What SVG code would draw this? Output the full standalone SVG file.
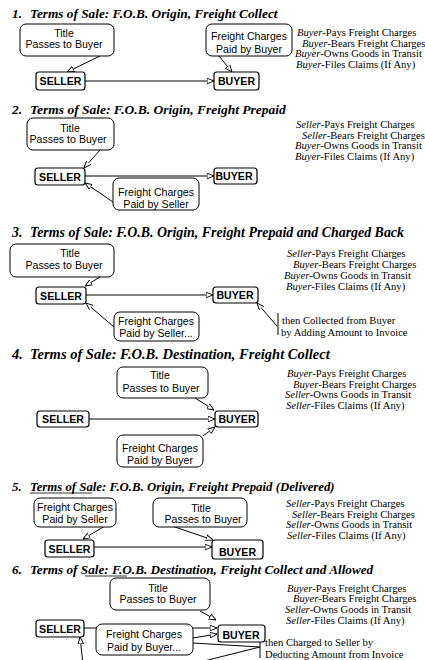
<svg xmlns="http://www.w3.org/2000/svg" width="425" height="660" viewBox="0 0 425 660">
<style>
.t{font-family:"Liberation Serif",serif;font-weight:bold;font-style:italic;font-size:13px;fill:#000}
.n{font-family:"Liberation Sans",Arial,sans-serif;font-size:10.6px;text-anchor:middle;fill:#000}
.b{font-family:"Liberation Sans",Arial,sans-serif;font-size:10.6px;font-weight:bold;text-anchor:middle;fill:#000}
.r{font-family:"Liberation Serif",serif;font-size:10.6px;fill:#000}
.i{font-style:italic}
.box{fill:#fff;stroke:#000;stroke-width:1}
.nb{fill:#fff;stroke:#000;stroke-width:1.2}
.c{fill:none;stroke:#000;stroke-width:1;marker-end:url(#ah)}
.p{fill:none;stroke:#000;stroke-width:1}
</style>
<defs>
<marker id="ah" viewBox="0 0 10 10" refX="10" refY="5" markerWidth="7" markerHeight="7" markerUnits="userSpaceOnUse" orient="auto">
<path d="M0,1 L10,5 L0,9 z" fill="#fff" stroke="#000" stroke-width="1.3"/>
</marker>
</defs>

<!-- Section titles and side notes -->
<g id="titles">
<text class="t" x="12" y="18" style="font-size:13.3px">1.<tspan x="30">Terms of Sale: F.O.B. Origin, Freight Collect</tspan></text>
<text class="t" x="12" y="114" style="font-size:13.5px">2.<tspan x="30">Terms of Sale: F.O.B. Origin, Freight Prepaid</tspan></text>
<text class="t" x="12" y="237" style="font-size:13.9px">3.<tspan x="30">Terms of Sale: F.O.B. Origin, Freight Prepaid and Charged Back</tspan></text>
<text class="t" x="12" y="359" style="font-size:14.5px">4.<tspan x="30">Terms of Sale: F.O.B. Destination, Freight Collect</tspan></text>
<text class="t" x="12" y="491" style="font-size:12.8px">5.<tspan x="30">Terms of Sale: F.O.B. Origin, Freight Prepaid (Delivered)</tspan></text>
<text class="t" x="12" y="574" style="font-size:13.2px">6.<tspan x="30">Terms of Sale: F.O.B. Destination, Freight Collect and Allowed</tspan></text>
<line x1="30" y1="493" x2="92" y2="493" stroke="#000" stroke-width="0.8"/>
<line x1="85" y1="576" x2="127" y2="576" stroke="#000" stroke-width="0.8"/>
</g>

<g id="notes">
<text class="r" x="297" y="36"><tspan class="i">Buyer</tspan>-Pays Freight Charges</text>
<text class="r" x="302" y="47"><tspan class="i">Buyer</tspan>-Bears Freight Charges</text>
<text class="r" x="295" y="57"><tspan class="i">Buyer</tspan>-Owns Goods in Transit</text>
<text class="r" x="296" y="68"><tspan class="i">Buyer</tspan>-Files Claims (If Any)</text>

<text class="r" x="296" y="128"><tspan class="i">Seller</tspan>-Pays Freight Charges</text>
<text class="r" x="302" y="139"><tspan class="i">Seller</tspan>-Bears Freight Charges</text>
<text class="r" x="295" y="149"><tspan class="i">Buyer</tspan>-Owns Goods in Transit</text>
<text class="r" x="295" y="160"><tspan class="i">Buyer</tspan>-Files Claims (If Any)</text>

<text class="r" x="287" y="257"><tspan class="i">Seller</tspan>-Pays Freight Charges</text>
<text class="r" x="293" y="268"><tspan class="i">Buyer</tspan>-Bears Freight Charges</text>
<text class="r" x="284" y="279"><tspan class="i">Buyer</tspan>-Owns Goods in Transit</text>
<text class="r" x="286" y="290"><tspan class="i">Buyer</tspan>-Files Claims (If Any)</text>

<text class="r" x="287" y="377"><tspan class="i">Buyer</tspan>-Pays Freight Charges</text>
<text class="r" x="293" y="388"><tspan class="i">Buyer</tspan>-Bears Freight Charges</text>
<text class="r" x="285" y="398"><tspan class="i">Seller</tspan>-Owns Goods in Transit</text>
<text class="r" x="286" y="409"><tspan class="i">Seller</tspan>-Files Claims (If Any)</text>

<text class="r" x="286" y="507"><tspan class="i">Seller</tspan>-Pays Freight Charges</text>
<text class="r" x="292" y="518"><tspan class="i">Seller</tspan>-Bears Freight Charges</text>
<text class="r" x="286" y="528"><tspan class="i">Seller</tspan>-Owns Goods in Transit</text>
<text class="r" x="287" y="539"><tspan class="i">Seller</tspan>-Files Claims (If Any)</text>

<text class="r" x="287" y="592"><tspan class="i">Buyer</tspan>-Pays Freight Charges</text>
<text class="r" x="293" y="602"><tspan class="i">Buyer</tspan>-Bears Freight Charges</text>
<text class="r" x="285" y="613"><tspan class="i">Seller</tspan>-Owns Goods in Transit</text>
<text class="r" x="286" y="624"><tspan class="i">Seller</tspan>-Files Claims (If Any)</text>

<text class="r" x="282" y="324">then Collected from Buyer</text>
<text class="r" x="281" y="336">by Adding Amount to Invoice</text>
<text class="r" x="265" y="646">then Charged to Seller by</text>
<text class="r" x="265" y="658">Deducting Amount from Invoice</text>
</g>

<!-- Connectors -->
<g id="connectors">
<path class="c" d="M85,81 L214,81"/>
<path class="c" d="M100,56 L67,72"/>
<path class="c" d="M219,56 L232,72"/>

<path class="c" d="M85,176 L214,176" stroke-width="1.3"/>
<path class="c" d="M100,150 L84,168"/>
<path class="c" d="M113,202 L85,183"/>

<path class="c" d="M86,295 L213,295"/>
<path class="c" d="M100,277 L85,286"/>
<path class="c" d="M114,327 L86,303"/>
<path class="c" d="M277,326 L257,303"/>
<path class="p" d="M278,313 L278,335"/>

<path class="c" d="M89,419 L215,419"/>
<path class="c" d="M195,398 L214,410"/>
<path class="c" d="M203,436 L215,427"/>

<path class="c" d="M94,547 L212,547"/>
<path class="c" d="M105,526 L83,539"/>
<path class="c" d="M172,526 L213,540"/>

<path class="c" d="M84,628 L217,628"/>
<path class="c" d="M200,611 L216,620"/>
<path class="c" d="M193,638 L217,634"/>
<path class="p" d="M193,643 L260,647"/>
<path class="p" d="M260,638 L260,658"/>
<path class="p" d="M200,662 L260,647" stroke-width="1.6"/>
<path class="c" d="M83,664 L80,637" stroke-width="1.6"/>
</g>

<!-- Section 1 -->
<g id="s1-title"><rect class="box" x="20" y="24" width="94" height="32" rx="6"/><text class="n" x="64" y="37">Title</text><text class="n" x="64" y="48">Passes to Buyer</text></g>
<g id="s1-fc"><rect class="box" x="206" y="24" width="86" height="32" rx="6"/><text class="n" x="249" y="40">Freight Charges</text><text class="n" x="249" y="53">Paid by Buyer</text></g>
<g id="s1-seller"><rect class="nb" x="36" y="72" width="49" height="18" rx="3"/><text class="b" x="60.5" y="85">SELLER</text></g>
<g id="s1-buyer"><rect class="nb" x="214" y="72" width="45" height="18" rx="3"/><text class="b" x="236.5" y="85">BUYER</text></g>

<!-- Section 2 -->
<g id="s2-title"><rect class="box" x="27" y="118" width="87" height="32" rx="6"/><text class="n" x="70" y="132">Title</text><text class="n" x="68" y="143">Passes to Buyer</text></g>
<g id="s2-fc"><rect class="box" x="113" y="178" width="86" height="32" rx="6"/><text class="n" x="156" y="196">Freight Charges</text><text class="n" x="156" y="208">Paid by Seller</text></g>
<g id="s2-seller"><rect class="nb" x="35" y="168" width="50" height="17" rx="3"/><text class="b" x="60" y="181">SELLER</text></g>
<g id="s2-buyer"><rect class="nb" x="214" y="168" width="43" height="16" rx="3"/><text class="b" x="234" y="180">BUYER</text></g>

<!-- Section 3 -->
<g id="s3-title"><rect class="box" x="10" y="244" width="104" height="33" rx="6"/><text class="n" x="70" y="257">Title</text><text class="n" x="64" y="269">Passes to Buyer</text></g>
<g id="s3-fc"><rect class="box" x="114" y="312" width="85" height="29" rx="6"/><text class="n" x="156" y="325">Freight Charges</text><text class="n" x="156" y="337">Paid by Seller...</text></g>
<g id="s3-seller"><rect class="nb" x="36" y="287" width="50" height="17" rx="3"/><text class="b" x="61" y="300">SELLER</text></g>
<g id="s3-buyer"><rect class="nb" x="213" y="287" width="45" height="16" rx="3"/><text class="b" x="235" y="299">BUYER</text></g>

<!-- Section 4 -->
<g id="s4-title"><rect class="box" x="117" y="367" width="91" height="31" rx="6"/><text class="n" x="160" y="379">Title</text><text class="n" x="161" y="392">Passes to Buyer</text></g>
<g id="s4-fc"><rect class="box" x="117" y="435" width="86" height="32" rx="6"/><text class="n" x="160" y="452">Freight Charges</text><text class="n" x="160" y="464">Paid by Buyer</text></g>
<g id="s4-seller"><rect class="nb" x="37" y="411" width="52" height="16" rx="3"/><text class="b" x="63" y="423">SELLER</text></g>
<g id="s4-buyer"><rect class="nb" x="215" y="411" width="43" height="16" rx="3"/><text class="b" x="237" y="423">BUYER</text></g>

<!-- Section 5 -->
<g id="s5-fc"><rect class="box" x="34" y="498" width="82" height="29" rx="6"/><text class="n" x="75" y="511">Freight Charges</text><text class="n" x="75" y="523">Paid by Seller</text></g>
<g id="s5-title"><rect class="box" x="153" y="498" width="94" height="29" rx="6"/><text class="n" x="201" y="512">Title</text><text class="n" x="203" y="523">Passes to Buyer</text></g>
<g id="s5-seller"><rect class="nb" x="45" y="540" width="49" height="17" rx="3"/><text class="b" x="69.5" y="553">SELLER</text></g>
<g id="s5-buyer"><rect class="nb" x="212" y="540" width="51" height="19" rx="3"/><text class="b" x="237.5" y="556">BUYER</text></g>

<!-- Section 6 -->
<g id="s6-title"><rect class="box" x="110" y="578" width="100" height="32" rx="6"/><text class="n" x="158" y="592">Title</text><text class="n" x="158" y="603">Passes to Buyer</text></g>
<g id="s6-fc"><rect class="box" x="96" y="624" width="97" height="31" rx="6"/><text class="n" x="144" y="638">Freight Charges</text><text class="n" x="144" y="651">Paid by Buyer...</text></g>
<g id="s6-seller"><rect class="nb" x="36" y="620" width="48" height="17" rx="3"/><text class="b" x="60" y="633">SELLER</text></g>
<g id="s6-buyer"><rect class="nb" x="218" y="625" width="47" height="17" rx="3"/><text class="b" x="241" y="639">BUYER</text></g>
</svg>
